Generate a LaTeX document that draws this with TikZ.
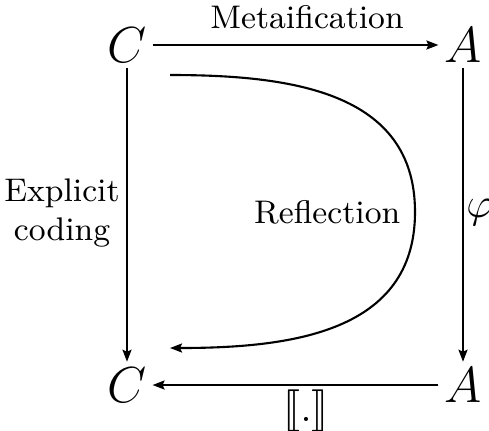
\documentclass[tikz,border=0pt]{standalone}
\usepackage{tikz}
\usepackage{stmaryrd}
\usetikzlibrary{arrows.meta, positioning}

\begin{document}
\begin{tikzpicture}[
  x=0.01cm, y=-0.01cm,
  obj/.style={font=\Large, inner sep=1.5pt},
  arr/.style={-{Stealth[length=1.2mm,width=0.9mm,inset=0.2mm]},line width=0.6pt},
  lbl/.style={font=\fontsize{9.3}{11}\selectfont,align=center,inner sep=1pt},
]
\useasboundingbox (0,0) rectangle (489,430);

% Objects
\node[obj] (ctop) at (127,45) {$C$};
\node[obj] (atop) at (463,45) {$A$};
\node[obj] (cbot) at (127,385) {$C$};
\node[obj] (abot) at (463,385) {$A$};

% Reflection curve ends
\coordinate (rs) at (170,75);
\coordinate (rm) at (415,212);
\coordinate (re) at (170,348);

% Arrows
\draw[arr] (ctop) -- (atop);
\draw[arr] (ctop) -- (cbot);
\draw[arr] (atop) -- (abot);
\draw[arr] (abot) -- (cbot);

% Labels
\node[lbl] (meta) at (307,17) {Metaification};
\node[lbl] (code) at (62,213) {Explicit\\coding};
\node[lbl,font=\large] (phi) at (480,213) {$\varphi$};
\node[lbl,font=\large] (sem) at (306,411) {$\llbracket.\rrbracket$};

% Reflection
\draw[arr] (rs) to[out=0,in=90,looseness=1.1] (rm)
  to[out=-90,in=0,looseness=1.1] (re);
\node[lbl,left,inner sep=4pt] (refl) at (rm) {Reflection};

\end{tikzpicture}
\end{document}
